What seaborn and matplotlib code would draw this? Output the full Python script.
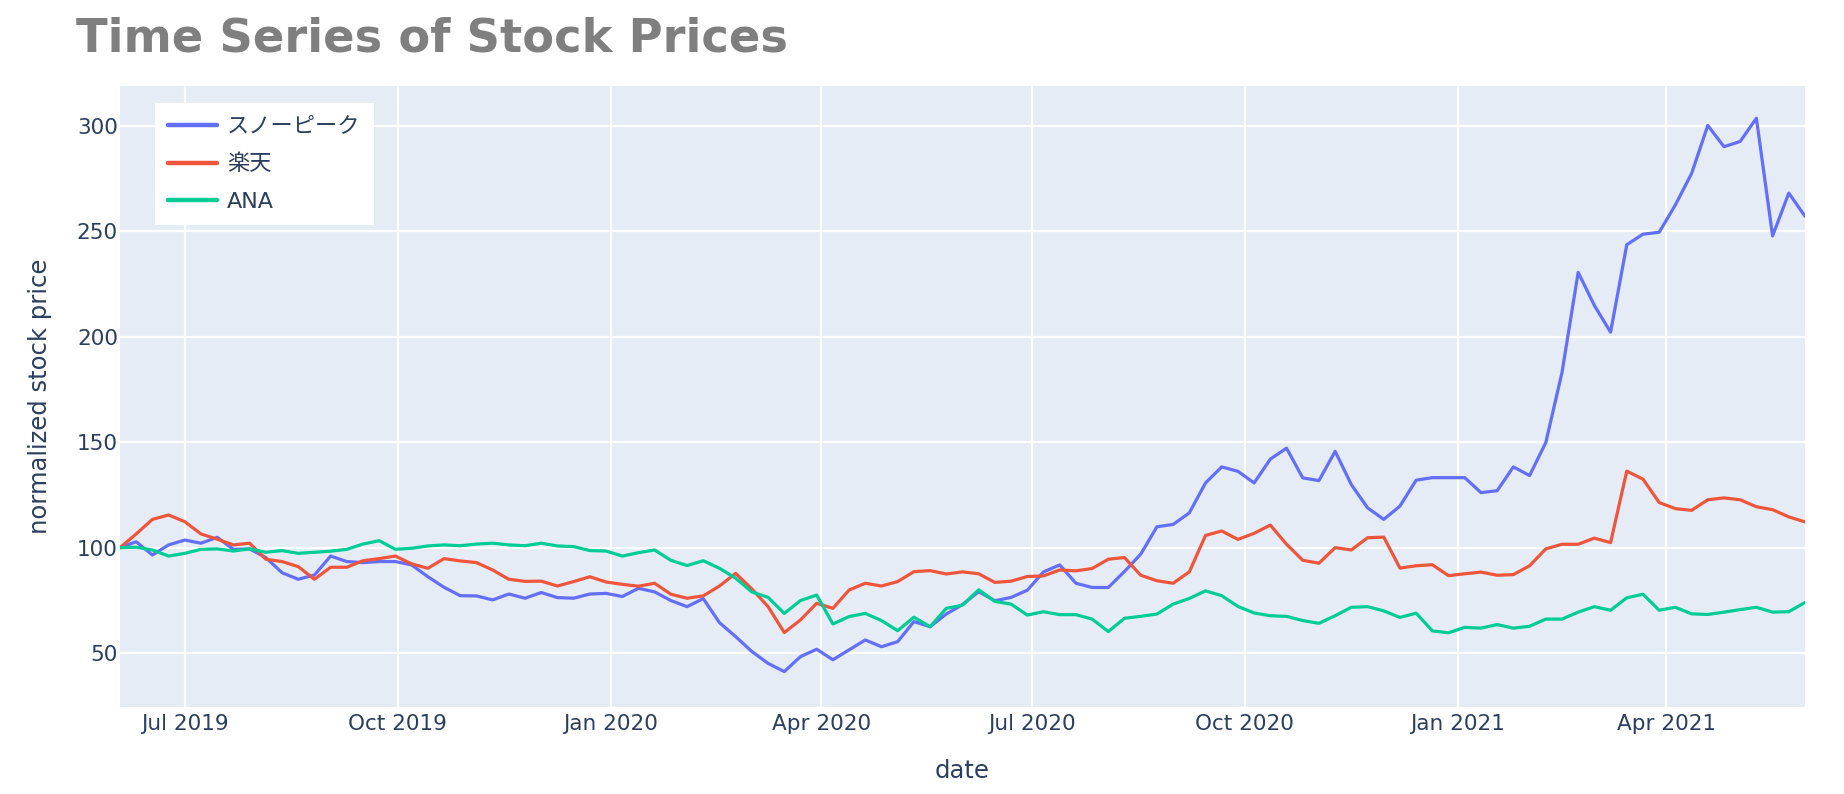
import matplotlib
matplotlib.use('Agg')
import matplotlib.pyplot as plt
import seaborn as sns
import pandas as pd

# ---------------- data (weekly samples, normalized to 100) ----------------
start_date = '2019-06-03'

snowpeak = [100, 102.8, 96.5, 101.3, 103.6, 102.1, 104.9, 99.2, 99.4, 95.3,
            88.1, 85.0, 87.0, 96.0, 93.4, 92.9, 93.4, 93.4, 91.8, 86.2,
            81.2, 77.2, 77.1, 75.2, 78.0, 76.0, 78.7, 76.3, 76.0, 78.0,
            78.3, 76.8, 80.7, 79.0, 74.9, 72.0, 75.8, 64.4, 57.8, 50.7,
            45.1, 41.2, 48.3, 51.8, 46.8, 51.5, 56.2, 53.0, 55.4, 64.9,
            62.5, 68.5, 73.0, 79.1, 74.8, 76.4, 79.8, 88.5, 91.8, 83.1,
            81.1, 81.1, 88.7, 96.9, 109.9, 111.0, 116.5, 130.7, 138.3, 136.2,
            130.7, 142.0, 147.2, 133.1, 131.8, 145.7, 129.9, 118.9, 113.4, 119.7,
            132.0, 133.2, 133.2, 133.2, 126.1, 127.0, 138.3, 134.2, 149.8, 183.0,
            230.6, 214.9, 202.2, 243.7, 248.7, 249.6, 262.6, 277.5, 300.3, 290.2,
            292.7, 303.7, 247.9, 268.2, 257.2]

rakuten = [100, 106.5, 113.4, 115.5, 112.3, 106.5, 104.0, 101.3, 102.1, 94.5,
           93.4, 91.0, 85.0, 90.7, 90.7, 93.8, 94.8, 96.0, 92.3, 90.2,
           94.8, 93.7, 92.9, 89.4, 85.0, 84.0, 84.1, 81.8, 83.9, 86.2,
           83.7, 82.6, 81.7, 83.1, 77.9, 76.0, 77.1, 81.8, 87.8, 80.4,
           72.0, 59.7, 65.7, 73.6, 71.2, 79.9, 83.1, 81.8, 83.9, 88.6,
           89.1, 87.5, 88.5, 87.6, 83.5, 84.1, 86.3, 86.6, 89.4, 89.0,
           90.1, 94.5, 95.3, 86.9, 84.3, 83.1, 88.5, 105.8, 107.9, 103.9,
           106.8, 110.7, 101.6, 94.0, 92.6, 100.0, 98.9, 104.7, 105.0, 90.3,
           91.4, 91.9, 86.7, 87.6, 88.4, 86.9, 87.2, 91.4, 99.4, 101.6,
           101.6, 104.5, 102.4, 136.3, 132.5, 121.4, 118.5, 117.7, 122.7, 123.6,
           122.7, 119.4, 118.0, 114.6, 112.2]

ana = [100, 100.2, 98.9, 96.0, 97.3, 99.2, 99.4, 98.4, 99.4, 97.8,
       98.6, 97.3, 97.8, 98.3, 99.2, 101.7, 103.3, 99.2, 99.7, 100.8,
       101.3, 100.9, 101.7, 102.1, 101.3, 100.9, 102.1, 100.8, 100.5, 98.6,
       98.4, 96.0, 97.6, 98.9, 94.0, 91.5, 93.8, 90.2, 85.5, 79.0,
       76.4, 68.8, 74.9, 77.5, 63.8, 67.3, 68.8, 65.4, 60.6, 67.0,
       62.5, 71.2, 72.7, 80.0, 74.5, 73.2, 68.0, 69.6, 68.2, 68.2,
       66.1, 60.2, 66.5, 67.4, 68.5, 73.2, 75.9, 79.5, 77.2, 72.1,
       69.0, 67.7, 67.4, 65.4, 64.1, 67.7, 71.7, 72.0, 70.0, 66.9,
       68.9, 60.5, 59.6, 62.2, 61.8, 63.5, 61.8, 62.7, 66.1, 66.1,
       69.4, 72.0, 70.3, 76.2, 77.9, 70.3, 71.7, 68.6, 68.3, 69.4,
       70.6, 71.7, 69.4, 69.6, 74.0]

series_names = ['スノーピーク', '楽天', 'ANA']
series_colors = ['#636EFA', '#EF553B', '#00CC96']

x_tick_dates = ['2019-07-01', '2019-10-01', '2020-01-01', '2020-04-01',
                '2020-07-01', '2020-10-01', '2021-01-01', '2021-04-01']
x_tick_labels = ['Jul 2019', 'Oct 2019', 'Jan 2020', 'Apr 2020',
                 'Jul 2020', 'Oct 2020', 'Jan 2021', 'Apr 2021']
y_ticks = [50, 100, 150, 200, 250, 300]

title_text = 'Time Series of Stock Prices'
x_title = 'date'
y_title = 'normalized stock price'

# ---------------- build long-form table ----------------
dates = pd.date_range(start_date, periods=len(snowpeak), freq='7D')
frames = []
for nm, vals in zip(series_names, [snowpeak, rakuten, ana]):
    frames.append(pd.DataFrame({'date': dates, 'price': vals, 'name': nm}))
df = pd.concat(frames, ignore_index=True)

# ---------------- style ----------------
sns.set_theme(style='darkgrid')
plt.rcParams['font.family'] = ['DejaVu Sans', 'Noto Sans CJK JP']
text_color = '#2a3f5f'

W, H = 1844, 794
fig = plt.figure(figsize=(W / 100, H / 100), dpi=100)
fig.patch.set_facecolor('white')
left, right, top, bottom = 120, 1805, 86, 707
ax = fig.add_axes([left / W, 1 - bottom / H, (right - left) / W, (bottom - top) / H])

sns.lineplot(data=df, x='date', y='price', hue='name', hue_order=series_names,
             palette=dict(zip(series_names, series_colors)), linewidth=2.3, ax=ax)

ax.set_facecolor('#E5ECF6')
ax.grid(True, color='white', linewidth=1.6)
for s in ax.spines.values():
    s.set_visible(False)

ax.set_xlim(dates[0], dates[-1])
ax.set_ylim(24.4, 319)
ax.set_yticks(y_ticks)
ax.set_yticklabels([str(v) for v in y_ticks])
ax.set_xticks(pd.to_datetime(x_tick_dates))
ax.set_xticklabels(x_tick_labels)
ax.tick_params(axis='both', length=0, labelsize=15.5, labelcolor=text_color)
ax.tick_params(axis='y', pad=1.5)
ax.tick_params(axis='x', pad=5)

ax.set_xlabel(x_title, fontsize=17.5, color=text_color, labelpad=18)
ax.set_ylabel(y_title, fontsize=17.5, color=text_color, labelpad=18)

handles, labels = ax.get_legend_handles_labels()
leg = ax.legend(handles, labels, loc='upper left', bbox_to_anchor=(0.0208, 0.9726),
                frameon=True, facecolor='white', edgecolor='none', framealpha=1,
                fancybox=False, borderaxespad=0, fontsize=16, handlelength=2.2,
                handletextpad=0.45, labelspacing=0.78, borderpad=0.6, title=None)
for t in leg.get_texts():
    t.set_color(text_color)
for h in leg.get_lines():
    h.set_linewidth(3.2)

fig.text(76 / W, 1 - 52 / H, title_text, fontsize=33.4, fontweight='bold',
         color='#7f7f7f', ha='left', va='baseline')

fig.savefig('out.png', dpi=100)
